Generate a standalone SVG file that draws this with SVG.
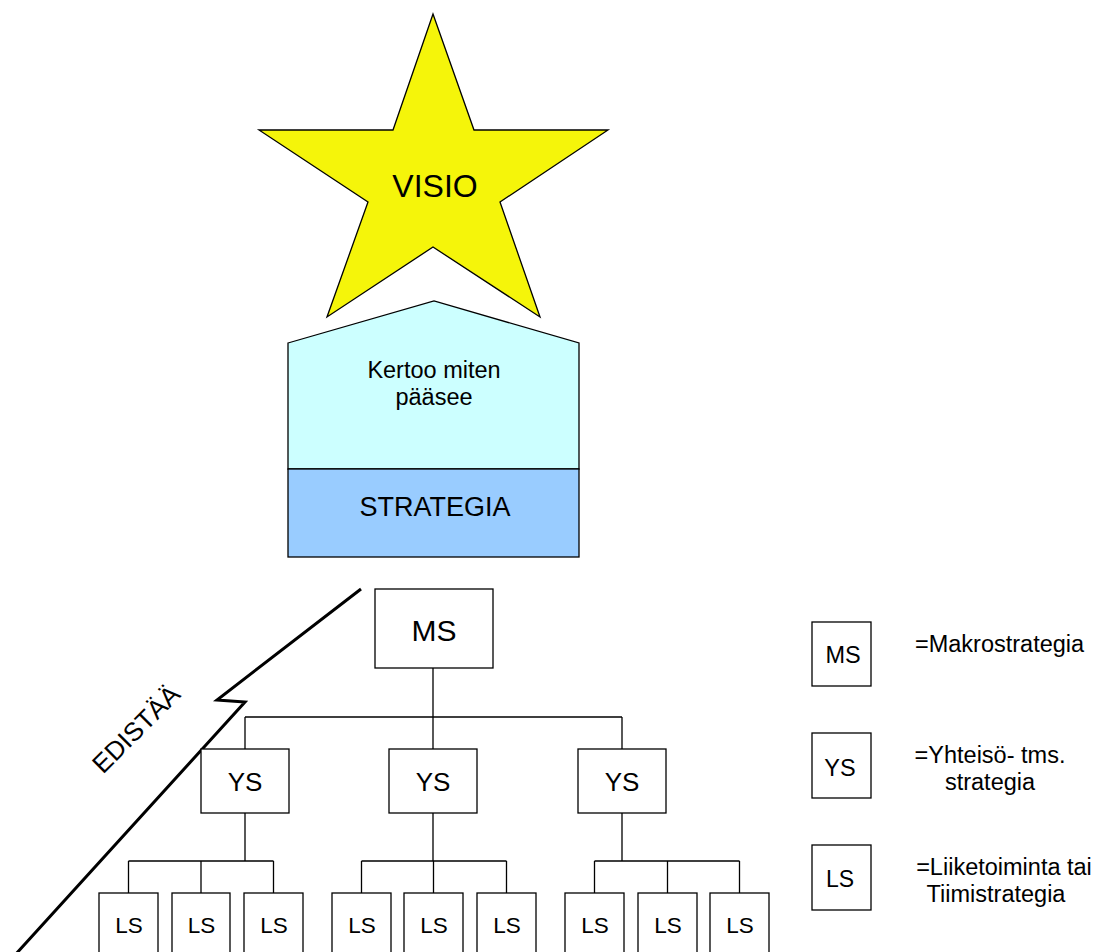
<svg xmlns="http://www.w3.org/2000/svg" width="1098" height="952" viewBox="0 0 1098 952">
  <style>
    text { font-family: "Liberation Sans", Arial, sans-serif; fill: #000; }
    .box { fill: #fff; stroke: #000; stroke-width: 1.3; }
    .wire { fill: none; stroke: #000; stroke-width: 1.3; }
    .mid { text-anchor: middle; }
    .leg { font-size: 23.5px; }
  </style>
  <rect width="1098" height="952" fill="#fff"/>

  <!-- Vision star -->
  <g id="visio">
    <polygon points="433,14 474,130 608,130 500,202 540,317 433,247 327,317 368,202 259,130 393,130" fill="#F5F50A" stroke="#000" stroke-width="1.3"/>
    <text x="435" y="197" class="mid" font-size="32">VISIO</text>
  </g>

  <!-- Strategy house -->
  <g id="strategia">
    <polygon points="288,343 434,301 579,343 579,469 288,469" fill="#CCFFFF" stroke="#000" stroke-width="1.3"/>
    <rect x="288" y="469" width="291" height="88" fill="#99CCFF" stroke="#000" stroke-width="1.3"/>
    <text x="434" y="378" class="mid" font-size="23.5">Kertoo miten</text>
    <text x="434" y="405" class="mid" font-size="23.5">pääsee</text>
    <text x="435" y="516" class="mid" font-size="27">STRATEGIA</text>
  </g>

  <!-- Zigzag progress line -->
  <g id="edistaa">
    <polyline points="361,589 217,700 245,702 15,955" fill="none" stroke="#000" stroke-width="3" stroke-linejoin="miter"/>
    <text x="136" y="738" class="mid" font-size="26" transform="rotate(-45 136 729)">EDISTÄÄ</text>
  </g>

  <!-- Tree connectors -->
  <g id="connectors">
    <path class="wire" d="M433,668 V717 M245,717 H622 M245,717 V749 M433,717 V749 M622,717 V749"/>
    <path class="wire" d="M245,813 V861 M128.5,861 H273.5 M128.5,861 V893 M201,861 V893 M273.5,861 V893"/>
    <path class="wire" d="M433,813 V861 M361.5,861 H506.5 M361.5,861 V893 M433.5,861 V893 M506.5,861 V893"/>
    <path class="wire" d="M622,813 V861 M594.5,861 H739.5 M594.5,861 V893 M667.5,861 V893 M739.5,861 V893"/>
  </g>

  <!-- Macro strategy -->
  <g id="ms">
    <rect class="box" x="375" y="589" width="118" height="79"/>
    <text x="434" y="641" class="mid" font-size="30">MS</text>
  </g>

  <!-- Community strategies -->
  <g id="ys1">
    <rect class="box" x="201" y="749" width="88" height="64"/>
    <text x="245" y="791" class="mid" font-size="26">YS</text>
  </g>
  <g id="ys2">
    <rect class="box" x="389" y="749" width="88" height="64"/>
    <text x="433" y="791" class="mid" font-size="26">YS</text>
  </g>
  <g id="ys3">
    <rect class="box" x="578" y="749" width="88" height="64"/>
    <text x="622" y="791" class="mid" font-size="26">YS</text>
  </g>

  <!-- Business / team strategies -->
  <g id="ls1"><rect class="box" x="99" y="893" width="59" height="70"/><text x="129" y="933" class="mid" font-size="22.5">LS</text></g>
  <g id="ls2"><rect class="box" x="172" y="893" width="58" height="70"/><text x="201.5" y="933" class="mid" font-size="22.5">LS</text></g>
  <g id="ls3"><rect class="box" x="244" y="893" width="59" height="70"/><text x="274" y="933" class="mid" font-size="22.5">LS</text></g>
  <g id="ls4"><rect class="box" x="332" y="893" width="59" height="70"/><text x="362" y="933" class="mid" font-size="22.5">LS</text></g>
  <g id="ls5"><rect class="box" x="404" y="893" width="59" height="70"/><text x="434" y="933" class="mid" font-size="22.5">LS</text></g>
  <g id="ls6"><rect class="box" x="477" y="893" width="59" height="70"/><text x="507" y="933" class="mid" font-size="22.5">LS</text></g>
  <g id="ls7"><rect class="box" x="565" y="893" width="59" height="70"/><text x="595" y="933" class="mid" font-size="22.5">LS</text></g>
  <g id="ls8"><rect class="box" x="638" y="893" width="59" height="70"/><text x="668" y="933" class="mid" font-size="22.5">LS</text></g>
  <g id="ls9"><rect class="box" x="710" y="893" width="59" height="70"/><text x="740" y="933" class="mid" font-size="22.5">LS</text></g>

  <!-- Legend -->
  <g id="legend-ms">
    <rect class="box" x="812" y="622" width="59" height="64"/>
    <text x="843" y="663" class="mid" font-size="23.5">MS</text>
    <text x="915" y="652" class="leg">=Makrostrategia</text>
  </g>
  <g id="legend-ys">
    <rect class="box" x="812" y="733" width="59" height="65"/>
    <text x="840" y="776" class="mid" font-size="23.5">YS</text>
    <text x="990" y="763" class="mid leg">=Yhteisö- tms.</text>
    <text x="990" y="790" class="mid leg">strategia</text>
  </g>
  <g id="legend-ls">
    <rect class="box" x="812" y="845" width="59" height="65"/>
    <text x="840" y="887" class="mid" font-size="23">LS</text>
    <text x="1004" y="875" class="mid leg">=Liiketoiminta tai</text>
    <text x="996" y="902" class="mid leg">Tiimistrategia</text>
  </g>
</svg>
